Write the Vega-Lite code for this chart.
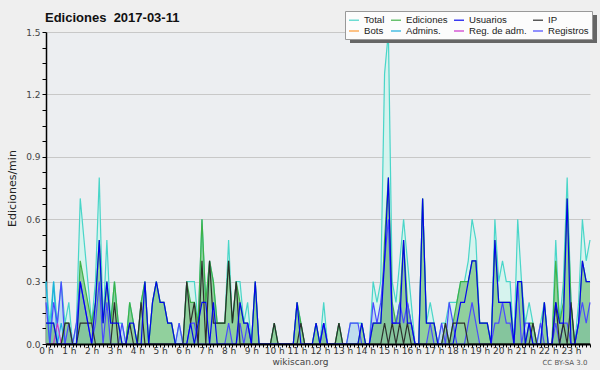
{
  "$schema": "https://vega.github.io/schema/vega-lite/v6.json",
  "width": 544,
  "height": 312,
  "autosize": {"type": "none"},
  "padding": {"left": 46, "top": 32, "right": 10, "bottom": 26},
  "background": "#efefef",
  "title": {"text": "Ediciones\u00a0 2017-03-11", "anchor": "start", "dx": 39, "dy": 24, "offset": 0, "baseline": "alphabetic", "fontSize": 13, "fontWeight": "bold", "font": "Arial", "color": "#111111"},
  "config": {"view": {"fill": "#eceef1", "stroke": null}},
  "data": {"values": [
    {"m":0,"T":0.3,"E":0.1,"U":0.1,"IP":0,"R":0.2,"A":0.3,"RA":0},
    {"m":10,"T":0.1,"E":0.1,"U":0.1,"IP":0,"R":0,"A":0,"RA":0},
    {"m":20,"T":0.3,"E":0.1,"U":0.1,"IP":0,"R":0.2,"A":0.3,"RA":0},
    {"m":30,"T":0.1,"E":0,"U":0,"IP":0,"R":0.1,"A":0,"RA":0.1},
    {"m":40,"T":0.3,"E":0,"U":0,"IP":0,"R":0.3,"A":0.1,"RA":0},
    {"m":50,"T":0.1,"E":0.1,"U":0,"IP":0.1,"R":0,"A":0,"RA":0},
    {"m":60,"T":0.2,"E":0.1,"U":0,"IP":0.1,"R":0.1,"A":0,"RA":0},
    {"m":70,"T":0,"E":0,"U":0,"IP":0,"R":0,"A":0,"RA":0},
    {"m":80,"T":0.1,"E":0,"U":0,"IP":0,"R":0.1,"A":0,"RA":0},
    {"m":90,"T":0.7,"E":0.4,"U":0.3,"IP":0.1,"R":0.3},
    {"m":100,"T":0.5,"E":0.3,"U":0.2,"IP":0.1,"R":0.2},
    {"m":110,"T":0.3,"E":0.2,"U":0.1,"IP":0.1,"R":0.1},
    {"m":120,"T":0.1,"E":0.1,"U":0,"IP":0.1,"R":0},
    {"m":130,"T":0.3,"E":0.2,"U":0.2,"IP":0,"R":0.1},
    {"m":140,"T":0.8,"E":0.5,"U":0.5,"IP":0,"R":0.3},
    {"m":150,"T":0.1,"E":0.1,"U":0.1,"IP":0,"R":0},
    {"m":160,"T":0.5,"E":0.3,"U":0.3,"IP":0,"R":0.2},
    {"m":170,"T":0.1,"E":0.1,"U":0.1,"IP":0,"R":0},
    {"m":180,"T":0.3,"E":0.3,"U":0.1,"IP":0.2,"R":0},
    {"m":190,"T":0.1,"E":0.1,"U":0.1,"IP":0,"R":0},
    {"m":200,"T":0.1,"E":0,"U":0,"IP":0,"R":0.1},
    {"m":210,"T":0,"E":0,"U":0,"IP":0,"R":0},
    {"m":220,"T":0.2,"E":0.2,"U":0.1,"IP":0.1,"R":0},
    {"m":230,"T":0.1,"E":0.1,"U":0.1,"IP":0,"R":0},
    {"m":240,"T":0,"E":0,"U":0,"IP":0,"R":0},
    {"m":250,"T":0.2,"E":0.2,"U":0,"IP":0.2,"R":0},
    {"m":260,"T":0.3,"E":0.3,"U":0.3,"IP":0,"R":0},
    {"m":270,"T":0,"E":0,"U":0,"IP":0,"R":0},
    {"m":280,"T":0.2,"E":0.2,"U":0.2,"IP":0,"R":0},
    {"m":290,"T":0.3,"E":0.3,"U":0.3,"IP":0,"R":0},
    {"m":300,"T":0.2,"E":0.2,"U":0.2,"IP":0,"R":0},
    {"m":310,"T":0.2,"E":0.2,"U":0.2,"IP":0,"R":0},
    {"m":320,"T":0.1,"E":0.1,"U":0.1,"IP":0,"R":0},
    {"m":330,"T":0.1,"E":0.1,"U":0.1,"IP":0,"R":0},
    {"m":340,"T":0,"E":0,"U":0,"IP":0,"R":0},
    {"m":350,"T":0.1,"E":0,"U":0,"IP":0,"R":0.1},
    {"m":360,"T":0,"E":0,"U":0,"IP":0,"R":0},
    {"m":370,"T":0.3,"E":0.3,"U":0,"IP":0.3,"R":0},
    {"m":380,"T":0.3,"E":0.2,"U":0.1,"IP":0.1,"R":0.1},
    {"m":390,"T":0.3,"E":0.2,"U":0,"IP":0.2,"R":0.1},
    {"m":400,"T":0.1,"E":0.1,"U":0.1,"IP":0,"R":0},
    {"m":410,"T":0.6,"E":0.6,"U":0.2,"IP":0.4,"R":0},
    {"m":420,"T":0.2,"E":0.2,"U":0.2,"IP":0,"R":0},
    {"m":430,"T":0.4,"E":0.4,"U":0,"IP":0.4,"R":0},
    {"m":440,"T":0.3,"E":0.3,"U":0.2,"IP":0.1,"R":0},
    {"m":450,"T":0.1,"E":0.1,"U":0,"IP":0.1,"R":0},
    {"m":460,"T":0.1,"E":0.1,"U":0,"IP":0.1,"R":0},
    {"m":470,"T":0.1,"E":0.1,"U":0,"IP":0.1,"R":0},
    {"m":480,"T":0.5,"E":0.4,"U":0,"IP":0.4,"R":0.1},
    {"m":490,"T":0.1,"E":0.1,"U":0,"IP":0.1,"R":0},
    {"m":500,"T":0.3,"E":0.3,"U":0,"IP":0.3,"R":0},
    {"m":510,"T":0.3,"E":0.2,"U":0.2,"IP":0,"R":0.1},
    {"m":520,"T":0.1,"E":0.1,"U":0.1,"IP":0,"R":0},
    {"m":530,"T":0.2,"E":0.1,"U":0.1,"IP":0,"R":0.1},
    {"m":540,"T":0,"E":0,"U":0,"IP":0,"R":0},
    {"m":550,"T":0.3,"E":0.3,"U":0.3,"IP":0,"R":0},
    {"m":560,"T":0,"E":0,"U":0,"IP":0,"R":0},
    {"m":570,"T":0,"E":0,"U":0,"IP":0,"R":0},
    {"m":580,"T":0,"E":0,"U":0,"IP":0,"R":0},
    {"m":590,"T":0,"E":0,"U":0,"IP":0,"R":0},
    {"m":600,"T":0.1,"E":0.1,"U":0,"IP":0.1,"R":0},
    {"m":610,"T":0,"E":0,"U":0,"IP":0,"R":0},
    {"m":620,"T":0,"E":0,"U":0,"IP":0,"R":0},
    {"m":630,"T":0,"E":0,"U":0,"IP":0,"R":0},
    {"m":640,"T":0,"E":0,"U":0,"IP":0,"R":0},
    {"m":650,"T":0,"E":0,"U":0,"IP":0,"R":0},
    {"m":660,"T":0.2,"E":0.2,"U":0.2,"IP":0,"R":0},
    {"m":670,"T":0.1,"E":0.1,"U":0,"IP":0.1,"R":0},
    {"m":680,"T":0,"E":0,"U":0,"IP":0,"R":0},
    {"m":690,"T":0,"E":0,"U":0,"IP":0,"R":0},
    {"m":700,"T":0,"E":0,"U":0,"IP":0,"R":0},
    {"m":710,"T":0.1,"E":0.1,"U":0.1,"IP":0,"R":0},
    {"m":720,"T":0,"E":0,"U":0,"IP":0,"R":0},
    {"m":730,"T":0.2,"E":0.1,"U":0.1,"IP":0,"R":0.1},
    {"m":740,"T":0,"E":0,"U":0,"IP":0,"R":0},
    {"m":750,"T":0,"E":0,"U":0,"IP":0,"R":0},
    {"m":760,"T":0,"E":0,"U":0,"IP":0,"R":0},
    {"m":770,"T":0.1,"E":0.1,"U":0,"IP":0.1,"R":0},
    {"m":780,"T":0,"E":0,"U":0,"IP":0,"R":0},
    {"m":790,"T":0,"E":0,"U":0,"IP":0,"R":0},
    {"m":800,"T":0.1,"E":0,"U":0,"IP":0,"R":0.1},
    {"m":810,"T":0.1,"E":0,"U":0,"IP":0,"R":0.1},
    {"m":820,"T":0.1,"E":0,"U":0,"IP":0,"R":0.1},
    {"m":830,"T":0.1,"E":0.1,"U":0.1,"IP":0,"R":0},
    {"m":840,"T":0,"E":0,"U":0,"IP":0,"R":0},
    {"m":850,"T":0,"E":0,"U":0,"IP":0,"R":0},
    {"m":860,"T":0.3,"E":0.1,"U":0.1,"IP":0,"R":0.2},
    {"m":870,"T":0.2,"E":0.1,"U":0.1,"IP":0,"R":0.1},
    {"m":880,"T":0.3,"E":0.1,"U":0.1,"IP":0,"R":0.2},
    {"m":890,"T":1.3,"E":0.5,"U":0.4,"IP":0.1,"R":0.4},
    {"m":900,"T":1.5,"E":0.8,"U":0.8,"IP":0,"R":0.6},
    {"m":910,"T":0.3,"E":0.2,"U":0.1,"IP":0.1,"R":0.1},
    {"m":920,"T":0.2,"E":0.1,"U":0.1,"IP":0,"R":0.1},
    {"m":930,"T":0.4,"E":0.2,"U":0.1,"IP":0.1,"R":0.2},
    {"m":940,"T":0.6,"E":0.5,"U":0.5,"IP":0,"R":0.1},
    {"m":950,"T":0.4,"E":0.2,"U":0.1,"IP":0.1,"R":0.2},
    {"m":960,"T":0.2,"E":0.1,"U":0.1,"IP":0,"R":0.1},
    {"m":970,"T":0,"E":0,"U":0,"IP":0,"R":0},
    {"m":980,"T":0,"E":0,"U":0,"IP":0,"R":0},
    {"m":990,"T":0.7,"E":0.7,"U":0.7,"IP":0,"R":0},
    {"m":1000,"T":0.1,"E":0.1,"U":0.1,"IP":0,"R":0},
    {"m":1010,"T":0.2,"E":0.1,"U":0.1,"IP":0,"R":0.1},
    {"m":1020,"T":0.1,"E":0.1,"U":0.1,"IP":0,"R":0},
    {"m":1030,"T":0,"E":0,"U":0,"IP":0,"R":0},
    {"m":1040,"T":0.1,"E":0,"U":0,"IP":0,"R":0.1},
    {"m":1050,"T":0.1,"E":0.1,"U":0,"IP":0.1,"R":0},
    {"m":1060,"T":0.2,"E":0,"U":0,"IP":0,"R":0.2},
    {"m":1070,"T":0.2,"E":0.1,"U":0,"IP":0.1,"R":0.1},
    {"m":1080,"T":0.2,"E":0.2,"U":0.1,"IP":0.1,"R":0},
    {"m":1090,"T":0.3,"E":0.3,"U":0.2,"IP":0.1,"R":0},
    {"m":1100,"T":0.3,"E":0.3,"U":0.2,"IP":0.1,"R":0},
    {"m":1110,"T":0.4,"E":0.3,"U":0.3,"IP":0,"R":0.1},
    {"m":1120,"T":0.6,"E":0.4,"U":0.4,"IP":0,"R":0.2},
    {"m":1130,"T":0.5,"E":0.4,"U":0.4,"IP":0,"R":0.1},
    {"m":1140,"T":0.1,"E":0.1,"U":0.1,"IP":0,"R":0},
    {"m":1150,"T":0.1,"E":0.1,"U":0.1,"IP":0,"R":0},
    {"m":1160,"T":0.1,"E":0.1,"U":0.1,"IP":0,"R":0},
    {"m":1170,"T":0,"E":0,"U":0,"IP":0,"R":0},
    {"m":1180,"T":0.6,"E":0.5,"U":0.5,"IP":0,"R":0.1},
    {"m":1190,"T":0.3,"E":0.2,"U":0.2,"IP":0,"R":0.1},
    {"m":1200,"T":0.4,"E":0.2,"U":0.2,"IP":0,"R":0.2},
    {"m":1210,"T":0.3,"E":0.2,"U":0.2,"IP":0,"R":0.1},
    {"m":1220,"T":0.3,"E":0.2,"U":0.2,"IP":0,"R":0.1},
    {"m":1230,"T":0,"E":0,"U":0,"IP":0,"R":0},
    {"m":1240,"T":0.6,"E":0.3,"U":0.3,"IP":0,"R":0.3},
    {"m":1250,"T":0.3,"E":0.3,"U":0.3,"IP":0,"R":0},
    {"m":1260,"T":0.1,"E":0,"U":0,"IP":0,"R":0.1},
    {"m":1270,"T":0.2,"E":0.1,"U":0.1,"IP":0,"R":0.1},
    {"m":1280,"T":0.1,"E":0.1,"U":0,"IP":0.1,"R":0},
    {"m":1290,"T":0,"E":0,"U":0,"IP":0,"R":0},
    {"m":1300,"T":0.1,"E":0,"U":0,"IP":0,"R":0.1},
    {"m":1310,"T":0.2,"E":0.2,"U":0.2,"IP":0,"R":0},
    {"m":1320,"T":0,"E":0,"U":0,"IP":0,"R":0},
    {"m":1330,"T":0,"E":0,"U":0,"IP":0,"R":0},
    {"m":1340,"T":0.5,"E":0.4,"U":0.2,"IP":0.2,"R":0.1},
    {"m":1350,"T":0.1,"E":0.1,"U":0.1,"IP":0,"R":0},
    {"m":1360,"T":0.3,"E":0.2,"U":0.1,"IP":0.1,"R":0.1},
    {"m":1370,"T":0.8,"E":0.7,"U":0.7,"IP":0,"R":0.1},
    {"m":1380,"T":0.2,"E":0.2,"U":0,"IP":0.2,"R":0},
    {"m":1390,"T":0,"E":0,"U":0,"IP":0,"R":0},
    {"m":1400,"T":0.2,"E":0.1,"U":0.1,"IP":0,"R":0.1},
    {"m":1410,"T":0.6,"E":0.4,"U":0.4,"IP":0,"R":0.2},
    {"m":1420,"T":0.4,"E":0.3,"U":0.3,"IP":0,"R":0.1},
    {"m":1430,"T":0.5,"E":0.3,"U":0.3,"IP":0,"R":0.2}
  ]},
  "transform": [{"fold": ["T", "A", "RA", "E", "R", "IP", "U"], "as": ["s", "v"]}],
  "encoding": {
    "x": {"field": "m", "type": "quantitative", "scale": {"domain": [0, 1430], "nice": false, "zero": false},
      "axis": {"tickCount": 143, "labelExpr": "datum.value % 60 == 0 ? (datum.value / 60) + ' h' : ''", "labelOverlap": false, "labelBound": false, "labelFlush": false, "grid": false, "domainColor": "#000000", "domainWidth": 2, "tickColor": "#000000", "tickSize": 3, "tickWidth": 1, "labelFontSize": 9, "labelFont": "DejaVu Sans", "labelColor": "#333333", "labelPadding": -1, "title": "wikiscan.org", "titleFontSize": 9, "titleFontWeight": "normal", "titleColor": "#444444", "titleFont": "DejaVu Sans", "titleX": 254, "titleY": 17, "titleBaseline": "middle", "titleAlign": "center", "zindex": 1}},
    "y": {"field": "v", "type": "quantitative", "scale": {"domain": [0, 1.5], "nice": false},
      "axis": {"values": [0, 0.075, 0.15, 0.225, 0.3, 0.375, 0.45, 0.525, 0.6, 0.675, 0.75, 0.825, 0.9, 0.975, 1.05, 1.125, 1.2, 1.275, 1.35, 1.425, 1.5],
        "labelExpr": "round(datum.value * 40) % 12 == 0 ? format(datum.value, '.1f') : ''",
        "gridOpacity": {"condition": {"test": "round(datum.value * 40) % 12 == 0 && datum.value > 0", "value": 1}, "value": 0},
        "gridColor": "#c8c8c8", "domainColor": "#000000", "domainWidth": 1.5, "tickColor": "#000000", "tickSize": 4, "labelPadding": 2, "labelFontSize": 9, "labelFont": "DejaVu Sans", "labelColor": "#444444",
        "title": "Ediciones/min", "titleFont": "DejaVu Sans", "titleFontSize": 11, "titleFontWeight": "normal", "titleColor": "#222222", "titleX": -34, "titleY": 156, "titleAngle": -90, "titleBaseline": "middle", "titleAlign": "center"}}
  },
  "layer": [
    {"layer": [
      {"transform": [{"filter": "datum.s == 'T'"}], "mark": {"type": "area", "color": "#d4f3ed", "opacity": 0.9}},
      {"transform": [{"filter": "datum.s == 'R'"}], "mark": {"type": "area", "color": "#8aaaee", "opacity": 0.3}},
      {"transform": [{"filter": "datum.s == 'E'"}], "mark": {"type": "area", "color": "#4cae4c", "opacity": 0.5}},
      {"mark": {"type": "line"},
        "encoding": {
          "color": {"field": "s", "type": "nominal",
            "scale": {"domain": ["T", "E", "U", "IP", "B", "A", "RA", "R"], "range": ["#40d4c6", "#3cb043", "#0000ee", "#2a2a2a", "#ff9a33", "#1aaedd", "#cc33cc", "#4a4aff"]},
            "legend": {"orient": "none", "legendX": 299, "legendY": -21, "zindex": 2, "direction": "horizontal", "columns": 4, "title": null, "symbolType": "stroke", "symbolSize": 100, "symbolStrokeWidth": 1.5, "symbolOpacity": 0.7, "labelFont": "Arial", "labelFontSize": 9.6, "labelColor": "#222222", "labelOffset": 4, "labelLimit": 0, "rowPadding": 0, "columnPadding": 3, "padding": 3, "fillColor": "#fcfcfc", "strokeColor": "#999999",
              "labelExpr": "datum.label == 'T' ? 'Total' : datum.label == 'E' ? 'Ediciones' : datum.label == 'U' ? 'Usuarios' : datum.label == 'IP' ? 'IP' : datum.label == 'B' ? 'Bots' : datum.label == 'A' ? 'Admins.' : datum.label == 'RA' ? 'Reg. de adm.' : 'Registros'"}},
          "strokeWidth": {"field": "s", "type": "nominal", "scale": {"domain": ["T", "E", "U", "IP", "B", "A", "RA", "R"], "range": [1.2, 1.2, 1.5, 1.2, 1, 1.2, 1, 1.2]}, "legend": null},
          "opacity": {"field": "s", "type": "nominal", "scale": {"domain": ["T", "E", "U", "IP", "B", "A", "RA", "R"], "range": [0.95, 1, 1, 0.8, 1, 1, 1, 0.75]}, "legend": null}
        }}
    ]},
    {"transform": [{"filter": "datum.s == 'none'"}], "mark": {"type": "point", "filled": true, "color": "#666666", "opacity": 1},
      "encoding": {
        "y": {"field": "v", "type": "quantitative", "scale": {"domain": [0, 1.5], "nice": false},
          "axis": {"orient": "right", "labels": false, "ticks": false, "domain": false, "grid": false, "title": "CC BY-SA 3.0", "titleAngle": 0, "titleX": -3, "titleY": 330, "titleAlign": "right", "titleBaseline": "middle", "titleFontSize": 7, "titleFontWeight": "normal", "titleColor": "#555555", "titleFont": "DejaVu Sans"}},
        "shape": {"field": "s", "type": "nominal",
          "scale": {"domain": ["shadow"], "range": ["M-1,-1H1V-0.7733H-1Z"]},
          "legend": {"orient": "none", "legendX": 304, "legendY": -17, "zindex": 1, "title": null, "symbolSize": 61009, "symbolFillColor": "#666666", "symbolStrokeWidth": 0, "symbolOpacity": 1, "labelExpr": "''", "labelOffset": 0, "labelFontSize": 1, "padding": 0}}
      }}
  ],
  "resolve": {"axis": {"y": "independent"}}
}
